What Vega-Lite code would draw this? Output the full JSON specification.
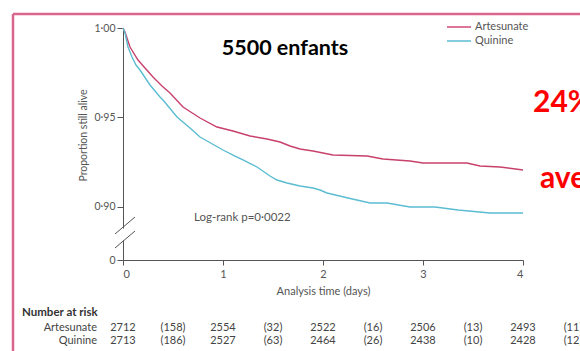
{
  "$schema": "https://vega.github.io/schema/vega-lite/v6.json",
  "width": 400,
  "height": 232,
  "autosize": {"type": "none"},
  "padding": {"left": 123, "top": 28, "right": 57, "bottom": 91},
  "background": "white",
  "config": {"view": {"stroke": null}, "font": "Lato"},
  "datasets": {
    "km": [
      {"arm": "Artesunate", "t": 0, "s": 1.0},
      {"arm": "Artesunate", "t": 0.02, "s": 0.99777},
      {"arm": "Artesunate", "t": 0.07, "s": 0.98939},
      {"arm": "Artesunate", "t": 0.15, "s": 0.98212},
      {"arm": "Artesunate", "t": 0.22, "s": 0.97765},
      {"arm": "Artesunate", "t": 0.30, "s": 0.97263},
      {"arm": "Artesunate", "t": 0.39, "s": 0.9676},
      {"arm": "Artesunate", "t": 0.47, "s": 0.96369},
      {"arm": "Artesunate", "t": 0.60, "s": 0.95587},
      {"arm": "Artesunate", "t": 0.77, "s": 0.94972},
      {"arm": "Artesunate", "t": 0.94, "s": 0.94469},
      {"arm": "Artesunate", "t": 1.10, "s": 0.94246},
      {"arm": "Artesunate", "t": 1.27, "s": 0.93966},
      {"arm": "Artesunate", "t": 1.44, "s": 0.93799},
      {"arm": "Artesunate", "t": 1.57, "s": 0.93631},
      {"arm": "Artesunate", "t": 1.67, "s": 0.93408},
      {"arm": "Artesunate", "t": 1.77, "s": 0.9324},
      {"arm": "Artesunate", "t": 1.90, "s": 0.93128},
      {"arm": "Artesunate", "t": 2.00, "s": 0.93017},
      {"arm": "Artesunate", "t": 2.10, "s": 0.92905},
      {"arm": "Artesunate", "t": 2.44, "s": 0.92849},
      {"arm": "Artesunate", "t": 2.60, "s": 0.92682},
      {"arm": "Artesunate", "t": 2.87, "s": 0.9257},
      {"arm": "Artesunate", "t": 3.00, "s": 0.92458},
      {"arm": "Artesunate", "t": 3.44, "s": 0.92458},
      {"arm": "Artesunate", "t": 3.57, "s": 0.92291},
      {"arm": "Artesunate", "t": 3.77, "s": 0.92235},
      {"arm": "Artesunate", "t": 4.00, "s": 0.92067},
      {"arm": "Quinine", "t": 0, "s": 1.0},
      {"arm": "Quinine", "t": 0.02, "s": 0.99721},
      {"arm": "Quinine", "t": 0.05, "s": 0.98939},
      {"arm": "Quinine", "t": 0.09, "s": 0.9838},
      {"arm": "Quinine", "t": 0.13, "s": 0.97933},
      {"arm": "Quinine", "t": 0.17, "s": 0.97654},
      {"arm": "Quinine", "t": 0.27, "s": 0.96816},
      {"arm": "Quinine", "t": 0.37, "s": 0.96145},
      {"arm": "Quinine", "t": 0.40, "s": 0.95978},
      {"arm": "Quinine", "t": 0.54, "s": 0.95028},
      {"arm": "Quinine", "t": 0.67, "s": 0.94413},
      {"arm": "Quinine", "t": 0.77, "s": 0.93911},
      {"arm": "Quinine", "t": 1.00, "s": 0.93184},
      {"arm": "Quinine", "t": 1.12, "s": 0.92849},
      {"arm": "Quinine", "t": 1.20, "s": 0.92626},
      {"arm": "Quinine", "t": 1.34, "s": 0.92235},
      {"arm": "Quinine", "t": 1.47, "s": 0.91732},
      {"arm": "Quinine", "t": 1.54, "s": 0.91508},
      {"arm": "Quinine", "t": 1.64, "s": 0.91341},
      {"arm": "Quinine", "t": 1.77, "s": 0.91173},
      {"arm": "Quinine", "t": 1.90, "s": 0.91061},
      {"arm": "Quinine", "t": 1.97, "s": 0.9095},
      {"arm": "Quinine", "t": 2.04, "s": 0.90782},
      {"arm": "Quinine", "t": 2.25, "s": 0.90503},
      {"arm": "Quinine", "t": 2.47, "s": 0.90223},
      {"arm": "Quinine", "t": 2.64, "s": 0.90223},
      {"arm": "Quinine", "t": 2.87, "s": 0.9},
      {"arm": "Quinine", "t": 3.12, "s": 0.9},
      {"arm": "Quinine", "t": 3.35, "s": 0.89832},
      {"arm": "Quinine", "t": 3.67, "s": 0.89665},
      {"arm": "Quinine", "t": 4.00, "s": 0.89665}
    ],
    "risk": [
      {"arm": "Artesunate", "t": 0, "n": "2712"},
      {"arm": "Artesunate", "t": 0.5, "n": "(158)"},
      {"arm": "Artesunate", "t": 1, "n": "2554"},
      {"arm": "Artesunate", "t": 1.5, "n": "(32)"},
      {"arm": "Artesunate", "t": 2, "n": "2522"},
      {"arm": "Artesunate", "t": 2.5, "n": "(16)"},
      {"arm": "Artesunate", "t": 3, "n": "2506"},
      {"arm": "Artesunate", "t": 3.5, "n": "(13)"},
      {"arm": "Artesunate", "t": 4, "n": "2493"},
      {"arm": "Artesunate", "t": 4.5, "n": "(11)"},
      {"arm": "Quinine", "t": 0, "n": "2713"},
      {"arm": "Quinine", "t": 0.5, "n": "(186)"},
      {"arm": "Quinine", "t": 1, "n": "2527"},
      {"arm": "Quinine", "t": 1.5, "n": "(63)"},
      {"arm": "Quinine", "t": 2, "n": "2464"},
      {"arm": "Quinine", "t": 2.5, "n": "(26)"},
      {"arm": "Quinine", "t": 3, "n": "2438"},
      {"arm": "Quinine", "t": 3.5, "n": "(10)"},
      {"arm": "Quinine", "t": 4, "n": "2428"},
      {"arm": "Quinine", "t": 4.5, "n": "(12)"}
    ],
    "one": [{"k": 1}]
  },
  "layer": [
    {
      "data": {"name": "km"},
      "mark": {"type": "line", "strokeWidth": 1.4, "interpolate": "linear"},
      "encoding": {
        "x": {
          "field": "t", "type": "quantitative",
          "scale": {"domain": [0, 4], "nice": false, "zero": false},
          "axis": {
            "values": [0, 1, 2, 3, 4], "format": "d", "grid": false,
            "title": "Analysis time (days)", "titleFontWeight": "normal", "titleFontSize": 11, "titleColor": "#555", "titlePadding": 6,
            "tickSize": 5, "labelPadding": 3, "labelFontSize": 11, "labelColor": "#555",
            "domainColor": "#555", "tickColor": "#555"
          }
        },
        "y": {
          "field": "s", "type": "quantitative",
          "scale": {"domain": [0.870391, 1], "nice": false, "zero": false},
          "axis": {
            "values": [0.870391, 0.9, 0.95, 1], "grid": false,
            "labelExpr": "datum.value < 0.88 ? '0' : replace(format(datum.value, '.2f'), '.', '·')",
            "title": "Proportion still alive", "titleFontWeight": "normal", "titleFontSize": 10.5, "titleColor": "#555",
            "titleX": -40, "titleY": 107, "titleBaseline": "middle",
            "tickSize": 6, "labelPadding": 2, "labelFontSize": 10.5, "labelColor": "#555",
            "domainColor": "#555", "tickColor": "#555"
          }
        },
        "color": {
          "field": "arm", "type": "nominal",
          "scale": {"domain": ["Artesunate", "Quinine"], "range": ["#c8416b", "#5bbcd2"]},
          "legend": null
        }
      }
    },
    {
      "data": {"name": "one"},
      "mark": {"type": "rule", "color": "#d9668f", "strokeWidth": 2.5},
      "encoding": {
        "x": {"datum": -1.1, "type": "quantitative"},
        "x2": {"datum": 4.9},
        "y": {"datum": 1.00782, "type": "quantitative"}
      }
    },
    {
      "data": {"name": "one"},
      "mark": {"type": "rule", "color": "#d9668f", "strokeWidth": 2.5},
      "encoding": {
        "x": {"datum": -1.1, "type": "quantitative"},
        "y": {"datum": 1.00782, "type": "quantitative"},
        "y2": {"datum": 0.78}
      }
    },
    {
      "data": {"name": "one"},
      "mark": {"type": "rule", "color": "white", "strokeWidth": 3},
      "encoding": {
        "x": {"datum": 0, "type": "quantitative"},
        "y": {"datum": 0.88799, "type": "quantitative"},
        "y2": {"datum": 0.88128}
      }
    },
    {
      "data": {"name": "one"},
      "mark": {"type": "rule", "color": "#555", "strokeWidth": 1},
      "encoding": {
        "x": {"datum": -0.08, "type": "quantitative"},
        "x2": {"datum": 0.12},
        "y": {"datum": 0.88492, "type": "quantitative"},
        "y2": {"datum": 0.89441}
      }
    },
    {
      "data": {"name": "one"},
      "mark": {"type": "rule", "color": "#555", "strokeWidth": 1},
      "encoding": {
        "x": {"datum": -0.08, "type": "quantitative"},
        "x2": {"datum": 0.12},
        "y": {"datum": 0.87709, "type": "quantitative"},
        "y2": {"datum": 0.88659}
      }
    },
    {
      "data": {"name": "one"},
      "mark": {"type": "rule", "color": "#d24a78", "strokeWidth": 1.5},
      "encoding": {
        "x": {"datum": 3.24, "type": "quantitative"},
        "x2": {"datum": 3.48},
        "y": {"datum": 1.000559, "type": "quantitative"}
      }
    },
    {
      "data": {"name": "one"},
      "mark": {"type": "rule", "color": "#5bbcd2", "strokeWidth": 1.5},
      "encoding": {
        "x": {"datum": 3.24, "type": "quantitative"},
        "x2": {"datum": 3.48},
        "y": {"datum": 0.99274, "type": "quantitative"}
      }
    },
    {
      "data": {"name": "one"},
      "mark": {"type": "text", "text": "Artesunate", "align": "left", "baseline": "middle", "fontSize": 11, "color": "#555"},
      "encoding": {
        "x": {"datum": 3.52, "type": "quantitative"},
        "y": {"datum": 1.000559, "type": "quantitative"}
      }
    },
    {
      "data": {"name": "one"},
      "mark": {"type": "text", "text": "Quinine", "align": "left", "baseline": "middle", "fontSize": 11, "color": "#555"},
      "encoding": {
        "x": {"datum": 3.52, "type": "quantitative"},
        "y": {"datum": 0.99274, "type": "quantitative"}
      }
    },
    {
      "data": {"name": "one"},
      "mark": {"type": "text", "text": "5500 enfants", "align": "center", "baseline": "alphabetic", "fontSize": 21.5, "fontWeight": "bold", "color": "black"},
      "encoding": {
        "x": {"datum": 1.62, "type": "quantitative"},
        "y": {"datum": 0.98492, "type": "quantitative"}
      }
    },
    {
      "data": {"name": "one"},
      "mark": {"type": "text", "text": "Log-rank p=0·0022", "align": "left", "baseline": "alphabetic", "fontSize": 11.5, "color": "#555"},
      "encoding": {
        "x": {"datum": 0.71, "type": "quantitative"},
        "y": {"datum": 0.89218, "type": "quantitative"}
      }
    },
    {
      "data": {"name": "one"},
      "mark": {"type": "text", "text": "24%", "align": "left", "baseline": "alphabetic", "fontSize": 30, "fontWeight": "bold", "color": "#ff0000"},
      "encoding": {
        "x": {"datum": 4.10, "type": "quantitative"},
        "y": {"datum": 0.95307, "type": "quantitative"}
      }
    },
    {
      "data": {"name": "one"},
      "mark": {"type": "text", "text": "ave", "align": "left", "baseline": "alphabetic", "fontSize": 30, "fontWeight": "bold", "color": "#ff0000"},
      "encoding": {
        "x": {"datum": 4.17, "type": "quantitative"},
        "y": {"datum": 0.91061, "type": "quantitative"}
      }
    },
    {
      "data": {"name": "one"},
      "mark": {"type": "text", "text": "Number at risk", "align": "left", "baseline": "middle", "fontSize": 11.5, "fontWeight": "bold", "color": "#333"},
      "encoding": {
        "x": {"datum": -1.01, "type": "quantitative"},
        "y": {"datum": 0.84078, "type": "quantitative"}
      }
    },
    {
      "data": {"name": "one"},
      "mark": {"type": "text", "text": "Artesunate", "align": "right", "baseline": "middle", "fontSize": 11, "color": "#444"},
      "encoding": {
        "x": {"datum": -0.26, "type": "quantitative"},
        "y": {"datum": 0.83268, "type": "quantitative"}
      }
    },
    {
      "data": {"name": "one"},
      "mark": {"type": "text", "text": "Quinine", "align": "right", "baseline": "middle", "fontSize": 11, "color": "#444"},
      "encoding": {
        "x": {"datum": -0.26, "type": "quantitative"},
        "y": {"datum": 0.82514, "type": "quantitative"}
      }
    },
    {
      "data": {"name": "risk"},
      "transform": [{"filter": "datum.arm === 'Artesunate'"}],
      "mark": {"type": "text", "align": "center", "baseline": "middle", "fontSize": 11, "color": "#444"},
      "encoding": {
        "x": {"field": "t", "type": "quantitative"},
        "y": {"datum": 0.83268, "type": "quantitative"},
        "text": {"field": "n", "type": "nominal"}
      }
    },
    {
      "data": {"name": "risk"},
      "transform": [{"filter": "datum.arm === 'Quinine'"}],
      "mark": {"type": "text", "align": "center", "baseline": "middle", "fontSize": 11, "color": "#444"},
      "encoding": {
        "x": {"field": "t", "type": "quantitative"},
        "y": {"datum": 0.82514, "type": "quantitative"},
        "text": {"field": "n", "type": "nominal"}
      }
    }
  ]
}
